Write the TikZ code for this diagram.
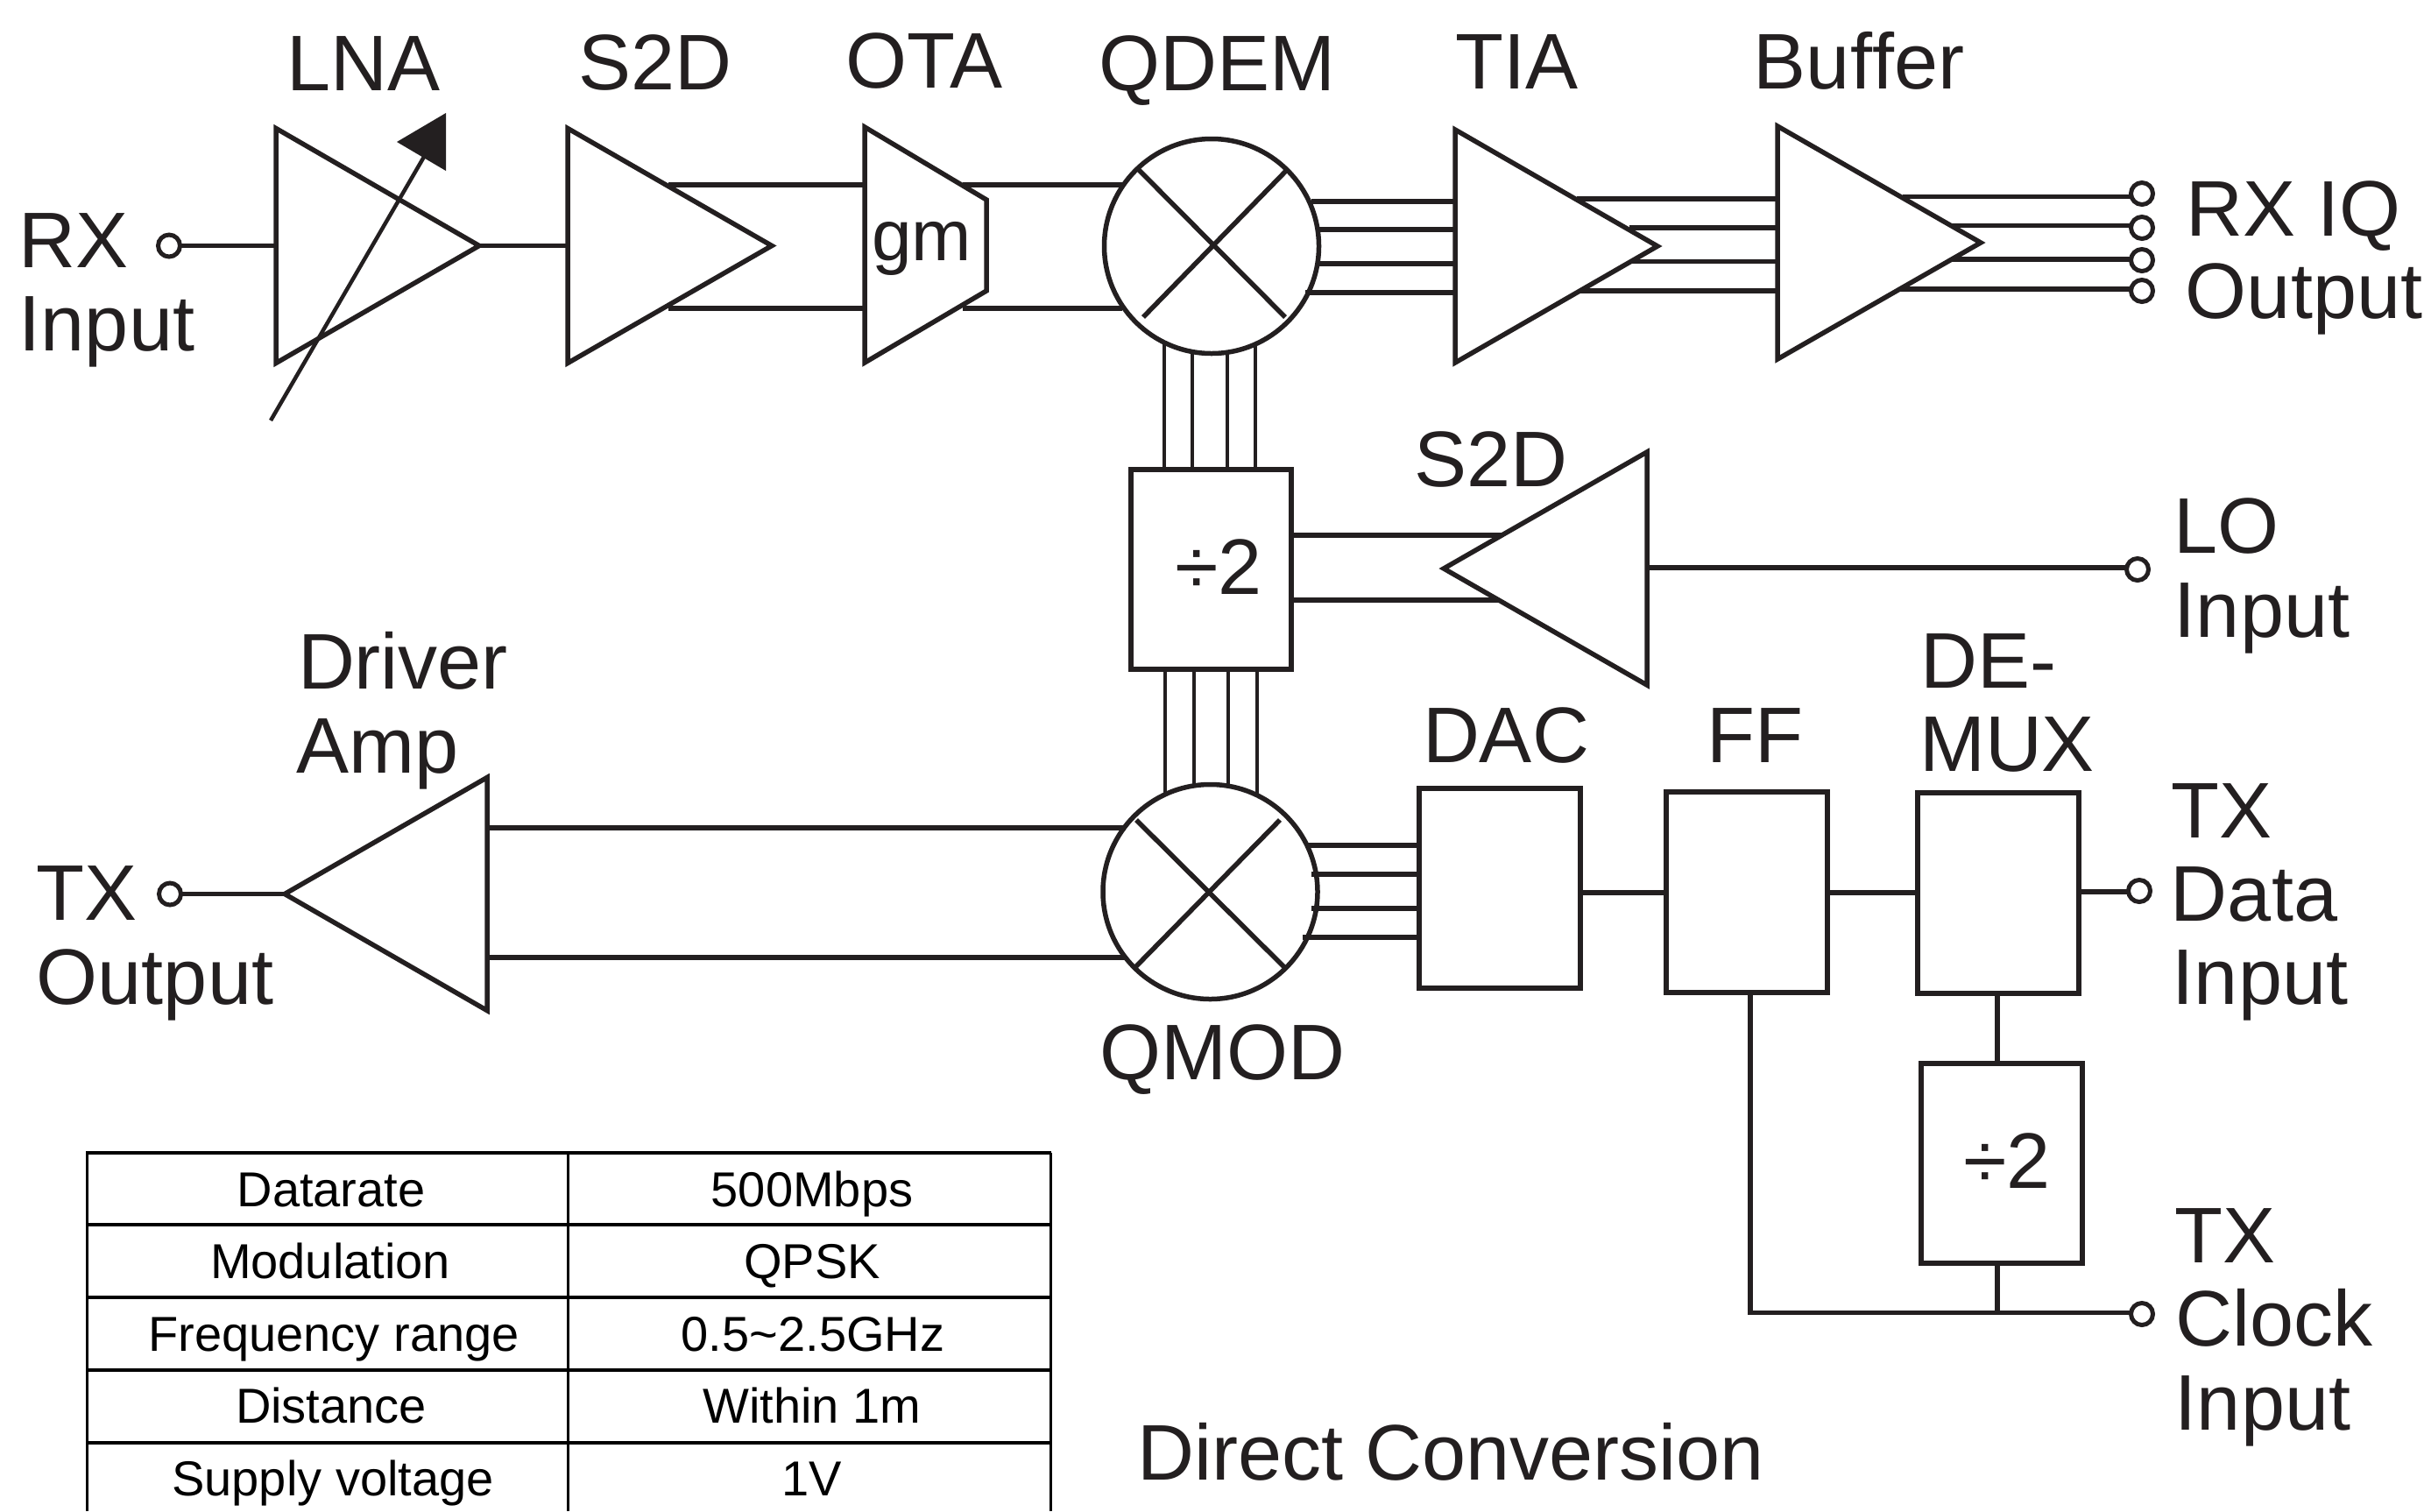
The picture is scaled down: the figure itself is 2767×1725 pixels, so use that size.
\documentclass[tikz,border=0pt]{standalone}
\usepackage{fontspec}
\setmainfont{Liberation Sans}
\usetikzlibrary{shapes.geometric}
\definecolor{ink}{HTML}{231F20}
\tikzset{
  x=1pt,y=-1pt,
  wire/.style={draw=ink,line width=5.5pt},
  thinwire/.style={draw=ink,line width=4.5pt},
  tri/.style={isosceles triangle,isosceles triangle stretches,draw=ink,line width=5.5pt,inner sep=0pt,outer sep=0pt,miter limit=10,anchor=lower side},
  blockbox/.style={rectangle,draw=ink,line width=6pt,inner sep=0pt,outer sep=0pt,anchor=north west},
  mixer/.style={circle,draw=ink,line width=5.5pt,inner sep=0pt,outer sep=0pt,minimum size=245pt},
  pin/.style={circle,draw=ink,line width=5pt,inner sep=0pt,outer sep=0pt,minimum size=25pt,fill=white},
  lab/.style={text=ink,inner sep=0pt,outer sep=0pt,anchor=base,font=\fontsize{90}{90}\selectfont},
  cell/.style={text=black,inner sep=0pt,outer sep=0pt,anchor=base,font=\fontsize{56}{56}\selectfont},
  rule/.style={draw=black,line width=4pt},
  colrule/.style={draw=black,line width=3pt},
}
\begin{document}
\begin{tikzpicture}
\useasboundingbox (0,0) rectangle (2767,1725);
% --- blocks, receive chain
\node[tri,minimum width=268pt,minimum height=232pt] (lna) at (315,280.5) {};
\node[tri,minimum width=268pt,minimum height=233pt] (sd) at (648,280.5) {};
\coordinate (otaA) at (987,145);
\coordinate (otaB) at (1126,228);
\coordinate (otaC) at (1126,332);
\coordinate (otaD) at (987,414);
\draw[wire,line join=miter] (otaA) -- (otaB) -- (otaC) -- (otaD) -- cycle;
\node[lab,font=\fontsize{82}{82}\selectfont] (gm) at (1052,297) {gm};
\node[mixer] (qdem) at (1383,281) {};
\node[tri,minimum width=266pt,minimum height=231pt] (tia) at (1661,281) {};
\node[tri,minimum width=266pt,minimum height=232pt] (buf) at (2029,277) {};
% mixer crosses
\coordinate (qa) at (1300,194); \coordinate (qb) at (1467,362);
\coordinate (qc) at (1468,195); \coordinate (qd) at (1305,362);
\draw[wire] (qa) -- (qb); \draw[wire] (qc) -- (qd);
% --- variable gain arrow
\coordinate (varS) at (309,480);
\coordinate (varE) at (484,179);
\coordinate (headA) at (509,129);
\coordinate (headB) at (453,162);
\coordinate (headC) at (509,195);
\draw[thinwire] (varS) -- (varE);
\fill[ink] (headA) -- (headB) -- (headC) -- cycle;
% --- pins
\node[pin] (rxin) at (193,280.5) {};
\node[pin] (iq1) at (2445,221) {};
\node[pin] (iq2) at (2445,260) {};
\node[pin] (iq3) at (2445,297) {};
\node[pin] (iq4) at (2445,332) {};
\node[pin] (loin) at (2440,650) {};
\node[pin] (txout) at (194,1020.5) {};
\node[pin] (txdata) at (2442,1017) {};
\node[pin] (txclk) at (2445,1500) {};
% --- LO and TX blocks
\node[blockbox,minimum width=183pt,minimum height=228pt] (div) at (1291,536) {};
\node[lab] (divt) at (1391,678) {÷2};
\node[tri,minimum width=266pt,minimum height=232pt,shape border rotate=180] (sdlo) at (1880,649) {};
\node[mixer] (qmod) at (1381.5,1018) {};
\coordinate (ma) at (1297,936); \coordinate (mb) at (1466,1104);
\coordinate (mc) at (1461,936); \coordinate (md) at (1296,1104);
\draw[wire] (ma) -- (mb); \draw[wire] (mc) -- (md);
\node[tri,minimum width=266pt,minimum height=231pt,shape border rotate=180] (drv) at (556,1020.5) {};
\node[blockbox,minimum width=184pt,minimum height=228pt] (dac) at (1620,900) {};
\node[blockbox,minimum width=184pt,minimum height=229pt] (ff) at (1902,904) {};
\node[blockbox,minimum width=184.5pt,minimum height=229pt] (dmx) at (2188.5,905) {};
\node[blockbox,minimum width=184pt,minimum height=228pt] (divb) at (2193,1214) {};
\node[lab] (divbt) at (2291,1356) {÷2};
% --- connectors, RX
\draw[wire] (rxin) -- (lna.lower side);
\draw[wire] (lna.apex) -- (sd.lower side);
\coordinate (s1) at (763,211); \coordinate (s2) at (763,352);
\draw[wire] (s1) -- (s1 -| otaA);
\draw[wire] (s2) -- (s2 -| otaA);
\coordinate (o1) at (1099,211); \coordinate (o2) at (1099,352);
\coordinate (qx1) at (1281,211); \coordinate (qx2) at (1281,352);
\draw[wire] (o1) -- (qx1);
\draw[wire] (o2) -- (qx2);
\coordinate (q1) at (1497,230); \coordinate (q2) at (1505,262);
\coordinate (q3) at (1505,301); \coordinate (q4) at (1490,334);
\foreach \p in {q1,q2,q3,q4} \draw[wire] (\p) -- (\p -| tia.lower side);
\coordinate (t1) at (1800,227); \coordinate (t2) at (1860,260);
\coordinate (t3) at (1860,298.5); \coordinate (t4) at (1803,332);
\foreach \p in {t1,t2,t3,t4} \draw[wire] (\p) -- (\p -| buf.lower side);
\coordinate (b1) at (2172,224.5); \coordinate (b2) at (2228,257.5);
\coordinate (b3) at (2228,296); \coordinate (b4) at (2168,330);
\draw[wire] (b1) -- (b1 -| iq1.west);
\draw[wire] (b2) -- (b2 -| iq2.west);
\draw[wire] (b3) -- (b3 -| iq3.west);
\draw[wire] (b4) -- (b4 -| iq4.west);
% --- LO
\coordinate (v1) at (1329,390); \coordinate (v2) at (1361,401);
\coordinate (v3) at (1401,402); \coordinate (v4) at (1433,393);
\foreach \p in {v1,v2,v3,v4} \draw[thinwire] (\p) -- (\p |- div.north);
\coordinate (w1) at (1330,906); \coordinate (w2) at (1363,896);
\coordinate (w3) at (1402,897); \coordinate (w4) at (1435,908);
\foreach \p in {w1,w2,w3,w4} \draw[thinwire] (\p) -- (\p |- div.south);
\coordinate (l1) at (1715,611); \coordinate (l2) at (1710,685);
\draw[wire] (l1) -- (l1 -| div.east);
\draw[wire] (l2) -- (l2 -| div.east);
\coordinate (loS) at (1880,648);
\draw[wire] (loS) -- (loS -| loin.west);
% --- TX
\coordinate (d1) at (556,945); \coordinate (d2) at (556,1093);
\coordinate (mx1) at (1285,945); \coordinate (mx2) at (1285,1093);
\draw[wire] (d1) -- (mx1);
\draw[wire] (d2) -- (mx2);
\draw[wire] (txout) -- (drv.apex);
\coordinate (m1) at (1490,965); \coordinate (m2) at (1497,998);
\coordinate (m3) at (1497,1037); \coordinate (m4) at (1487,1070);
\foreach \p in {m1,m2,m3,m4} \draw[wire] (\p) -- (\p -| dac.west);
\coordinate (r1) at (dac.east |- 0,1019);
\draw[wire] (r1) -- (r1 -| ff.west);
\coordinate (r2) at (ff.east |- 0,1019);
\draw[wire] (r2) -- (r2 -| dmx.west);
\coordinate (r3) at (dmx.east |- 0,1018);
\draw[wire] (r3) -- (r3 -| txdata.west);
\coordinate (u1) at (2280,1134);
\coordinate (u2) at (2280,1498.5);
\coordinate (u3) at (1998,1498.5);
\draw[wire] (u1) -- (u1 |- divb.north);
\draw[wire] (u2) -- (u2 |- divb.south);
\draw[wire] (u3 |- ff.south) -- (u3) -- (u3 -| txclk.west);
% --- labels
\node[lab] (tlna) at (415,103) {LNA};
\node[lab] (tsd) at (748,102) {S2D};
\node[lab] (tota) at (1055,100) {OTA};
\node[lab] (trx) at (84,305) {RX};
\node[lab] (trxi) at (122,400) {Input};
\node[lab] (tqdem) at (1389,103) {QDEM};
\node[lab] (ttia) at (1731,101) {TIA};
\node[lab] (tbuf) at (2122,101) {Buf\kern0ptfer};
\node[lab] (tiq) at (2618,269) {RX IQ};
\node[lab] (tout) at (2630,363) {Output};
\node[lab] (tsd2) at (1702,555) {S2D};
\node[lab] (tlo) at (2541,631) {LO};
\node[lab] (tloi) at (2582,727) {Input};
\node[lab] (tde) at (2270,785) {DE-};
\node[lab] (tmux) at (2291,880) {MUX};
\node[lab] (tdac) at (1719,870) {DAC};
\node[lab] (tff) at (2003,870) {FF};
\node[lab] (ttx) at (2536,956) {TX};
\node[lab] (tdata) at (2573,1051) {Data};
\node[lab] (tdi) at (2580,1146) {Input};
\node[lab] (tqmod) at (1395,1232) {QMOD};
\node[lab] (ttx2) at (2540,1441) {TX};
\node[lab] (tclk) at (2596,1536) {Clock};
\node[lab] (tci) at (2583,1632) {Input};
\node[lab] (tdc) at (1656,1689) {Direct Conversion};
\node[lab] (tdrv) at (460,786) {Driver};
\node[lab] (tamp) at (431,882) {Amp};
\node[lab] (ttxo) at (99,1050) {TX};
\node[lab] (ttxo2) at (177,1146) {Output};
% --- table
\coordinate (tl) at (98,1315.5); \coordinate (tr) at (1200,1315.5);
\coordinate (tbl) at (99.5,1725); \coordinate (tm) at (648.5,1725); \coordinate (tbr) at (1199,1725);
\foreach \y in {1315.5,1398,1480.5,1563.5,1646.5} \draw[rule] (tl |- 0,\y) -- (tr |- 0,\y);
\draw[colrule] (tbl) -- (tbl |- tl);
\draw[colrule] (tm) -- (tm |- tl);
\draw[colrule] (tbr) -- (tbr |- tl);
\node[cell] (c11) at (378,1377) {Datarate};
\node[cell] (c12) at (927,1377) {500Mbps};
\node[cell] (c21) at (377,1459) {Modulation};
\node[cell] (c22) at (927,1459) {QPSK};
\node[cell] (c31) at (381,1542) {Frequency range};
\node[cell] (c32) at (928,1542) {0.5\char`\~2.5GHz};
\node[cell] (c41) at (378,1624) {Distance};
\node[cell] (c42) at (927,1624) {Within 1m};
\node[cell] (c51) at (380,1707) {Supply voltage};
\node[cell] (c52) at (927,1707) {1V};
\end{tikzpicture}
\end{document}
